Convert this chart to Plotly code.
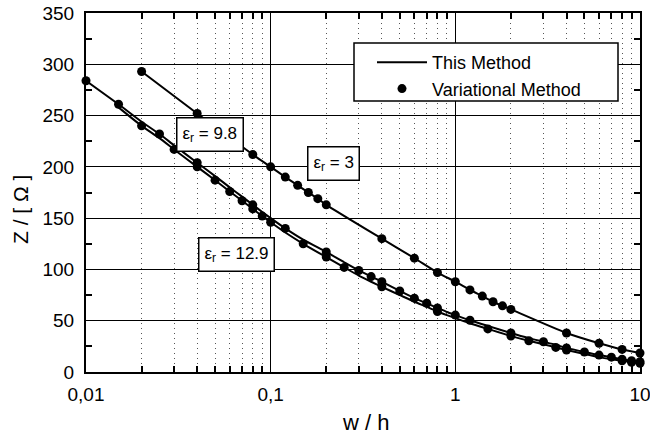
import plotly.graph_objects as go

# ---- data ----
# eps_r = 3 (This Method line and Variational dots)
x_er3 = [0.02, 0.04, 0.08, 0.1, 0.12, 0.14, 0.16, 0.18, 0.2, 0.4, 0.6, 0.8,
         1.0, 1.2, 1.4, 1.6, 1.8, 2.0, 4.0, 6.0, 8.0, 10.0]
z_er3 = [293, 252, 212, 200, 190, 182, 175, 169, 163, 130, 111, 97,
         88, 80, 74, 68.5, 64.5, 61, 38, 28, 22, 18.5]

# eps_r = 9.8 line
x_er98 = [0.01, 0.015, 0.02, 0.025, 0.03, 0.04, 0.05, 0.06, 0.07, 0.08, 0.09, 0.1,
          0.12, 0.15, 0.2, 0.25, 0.3, 0.35, 0.4, 0.5, 0.6, 0.7, 0.8, 0.9, 1.0,
          1.2, 1.5, 2.0, 2.5, 3.0, 3.5, 4.0, 5.0, 6.0, 7.0, 8.0, 9.0, 10.0]
z_er98 = [284, 261, 244, 232, 221, 204, 191, 180, 171, 163, 156, 150,
          140, 129, 117, 107, 99, 93, 88, 79, 72, 67, 62.5, 58.5, 55.5,
          50.5, 45, 38, 33, 29.5, 26.5, 23.5, 19.5, 16.5, 14.5, 12.5, 11, 10]
# eps_r = 9.8 variational dots
xd_er98 = [0.01, 0.015, 0.025, 0.04, 0.08, 0.12, 0.2, 0.3, 0.35, 0.4, 0.5, 0.6,
           0.7, 0.8, 1.0, 1.2, 2.0, 3.0, 4.0, 5.0, 6.0, 7.0, 8.0, 9.0, 10.0]
zd_er98 = [284, 261, 232, 204, 163, 140, 117, 99, 93, 88, 79, 72,
           67, 62.5, 55.5, 50.5, 38, 29.5, 23.5, 19.5, 16.5, 14.5, 12.5, 11, 10]

# eps_r = 12.9 line
x_er129 = [0.015, 0.02, 0.025, 0.03, 0.04, 0.05, 0.06, 0.07, 0.08, 0.09, 0.1,
           0.12, 0.15, 0.2, 0.25, 0.3, 0.35, 0.4, 0.5, 0.6, 0.7, 0.8, 0.9, 1.0,
           1.2, 1.5, 2.0, 2.5, 3.0, 3.5, 4.0, 5.0, 6.0, 7.0, 8.0, 9.0, 10.0]
z_er129 = [258, 240, 228, 217, 200, 187, 176, 167, 159, 152, 146,
           136, 125, 112, 102, 94, 88, 83, 75, 68.5, 63.5, 59, 55.5, 52.5,
           47.5, 42, 35, 30.5, 27, 24, 21.5, 17.5, 14.5, 12.5, 11, 9.5, 8.5]
# eps_r = 12.9 variational dots
xd_er129 = [0.02, 0.03, 0.04, 0.05, 0.06, 0.07, 0.08, 0.09, 0.1, 0.15, 0.2, 0.25,
            0.4, 0.8, 1.5, 2.0, 2.5, 3.5, 4.0, 8.0, 9.0, 10.0]
zd_er129 = [240, 217, 200, 187, 176, 167, 159, 152, 146, 125, 112, 102,
            83, 59, 42, 35, 30.5, 24, 21.5, 11, 9.5, 8.5]

x_tickvals = [0.01, 0.1, 1, 10]
x_ticktext = ["0,01", "0,1", "1", "10"]
x_minor = [m * d for d in (0.01, 0.1, 1) for m in range(2, 10)]

FONT = "Liberation Sans, Arial, Helvetica, sans-serif"

fig = go.Figure()

line_sets = [(x_er3, z_er3), (x_er98, z_er98), (x_er129, z_er129)]
for i, (xs, zs) in enumerate(line_sets):
    fig.add_trace(go.Scatter(
        x=xs, y=zs, mode="lines", line=dict(color="black", width=2, shape="spline", smoothing=0.6),
        name="This Method", legendgroup="line", showlegend=(i == 0)))

dot_sets = [(x_er3, z_er3), (xd_er98, zd_er98), (xd_er129, zd_er129)]
for i, (xs, zs) in enumerate(dot_sets):
    fig.add_trace(go.Scatter(
        x=xs, y=zs, mode="markers", marker=dict(color="black", size=9),
        name="Variational Method", legendgroup="dots", showlegend=(i == 0),
        cliponaxis=False))

W, H = 650, 439
L, R, T, B = 86, 10, 13, 67
pw, ph = W - L - R, H - T - B

def px(xp, yp):
    return (xp - L) / pw, (H - B - yp) / ph

annots = []
for txt, (cx, cy) in [("ε<sub>r</sub> = 9.8", (209.5, 134)),
                      ("ε<sub>r</sub> = 3", (333.5, 163)),
                      ("ε<sub>r</sub> = 12.9", (236, 254))]:
    ax, ay = px(cx, cy)
    annots.append(dict(x=ax, y=ay, xref="paper", yref="paper", text=txt, showarrow=False,
                       font=dict(family=FONT, size=17, color="black"),
                       bgcolor="white", bordercolor="black", borderwidth=1.5, borderpad=5,
                       xanchor="center", yanchor="middle"))

tx, ty = px(21, 210)
annots.append(dict(x=tx, y=ty, xref="paper", yref="paper", text="Z / [ Ω ]", showarrow=False,
                   textangle=-90, font=dict(family=FONT, size=21, color="black"),
                   xanchor="center", yanchor="middle"))
tx, ty = px(365, 422)
annots.append(dict(x=tx, y=ty, xref="paper", yref="paper", text="w / h", showarrow=False,
                   font=dict(family=FONT, size=22, color="black"),
                   xanchor="center", yanchor="middle"))

# legend frame (drawn as a shape so its size matches the reference)
bx0, by0 = px(354, 101)
bx1, by1 = px(618, 43)
shapes = [dict(type="rect", xref="paper", yref="paper", x0=bx0, y0=by0, x1=bx1, y1=by1,
               line=dict(color="black", width=1.5), fillcolor="white", layer="above")]

lx, ly = px(372, 44)
fig.update_layout(
    width=W, height=H,
    margin=dict(l=L, r=R, t=T, b=B, pad=0, autoexpand=False),
    paper_bgcolor="white", plot_bgcolor="white",
    font=dict(family=FONT, color="black"),
    showlegend=True,
    legend=dict(x=lx, y=ly, xanchor="left", yanchor="top",
                bgcolor="rgba(0,0,0,0)", borderwidth=0,
                font=dict(family=FONT, size=18, color="black"),
                itemwidth=50, tracegroupgap=0),
    annotations=annots,
    shapes=shapes,
    xaxis=dict(type="log", range=[-2, 1], tickmode="array", automargin=False,
               tickvals=x_tickvals, ticktext=x_ticktext, ticklabeloverflow="allow",
               showgrid=True, gridcolor="black", gridwidth=1,
               ticks="", showline=True, linecolor="black", linewidth=2, mirror="ticks",
               tickfont=dict(family=FONT, size=19, color="black"),
               ticklabelstandoff=4, zeroline=False,
               minor=dict(tickmode="array", tickvals=x_minor, ticks="inside", ticklen=6,
                          tickcolor="black", tickwidth=1.5,
                          showgrid=True, griddash="1px,4px", gridcolor="#555", gridwidth=1)),
    yaxis=dict(range=[0, 350], tickmode="linear", tick0=0, dtick=50, automargin=False,
               showgrid=True, gridcolor="black", gridwidth=1.2, ticklabeloverflow="allow",
               ticks="", showline=True, linecolor="black", linewidth=2, mirror="ticks",
               tickfont=dict(family=FONT, size=19, color="black"),
               ticklabelstandoff=6, zeroline=False,
               minor=dict(dtick=25, tick0=0, ticks="inside", ticklen=6, tickcolor="black",
                          tickwidth=1.5, showgrid=False)),
)

fig.write_html("out.html")
